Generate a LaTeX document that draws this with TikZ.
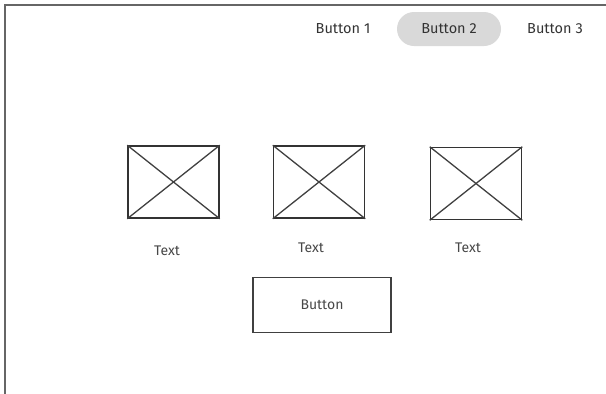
\documentclass[tikz,border=0pt]{standalone}
\usepackage{fontspec}
\setmainfont{Fira Sans}
\usepackage{xcolor}

\begin{document}
\begin{tikzpicture}[
    x=1pt, y=-1pt,
    frame/.style={
        draw=black!60,
        line width=1.4pt
    },
    navitem/.style={
        font=\fontsize{14.5}{16}\selectfont,
        text=black!80,
        inner sep=0pt
    },
    navactive/.style={
        navitem,
        fill=black!15,
        rounded corners=17pt,
        minimum width=104pt,
        minimum height=34pt
    },
    imgbox/.style={
        rectangle,
        draw=black!80,
        line width=1.5pt,
        minimum width=91pt,
        minimum height=72pt,
        inner sep=0pt
    },
    cross/.style={
        draw=black!75,
        line width=1.3pt
    },
    caption/.style={
        font=\fontsize{14}{16}\selectfont,
        text=black!72
    },
    btn/.style={
        rectangle,
        draw=black!75,
        line width=1.3pt,
        minimum width=138pt,
        minimum height=55pt,
        font=\fontsize{14}{16}\selectfont,
        text=black!72
    }
]
    \useasboundingbox (0,0) rectangle (606,394);

    % --- Page frame (cut off at right and bottom) ---
    \coordinate (topright) at (606,5);
    \coordinate (corner) at (5,5);
    \coordinate (botleft) at (5,394);
    \draw [frame] (topright) -- (corner) -- (botleft);

    % --- Navigation bar ---
    \node [navitem] (nav1) at (343,29) {Button 1};
    \node [navactive] (nav2) at (449,29) {Button 2};
    \node [navitem] (nav3) at (555,29) {Button 3};

    % --- Image placeholders ---
    \node [imgbox] (img1) at (173.5,182) {};
    \node [imgbox] (img2) at (319,182) {};
    \node [imgbox] (img3) at (476,183.5) {};
    \foreach \i in {1,2,3} {
        \path [cross] (img\i.north west) -- (img\i.south east);
        \path [cross] (img\i.south west) -- (img\i.north east);
    }

    % --- Captions ---
    \node [caption] (cap1) at (167,251) {Text};
    \node [caption] (cap2) at (311,248) {Text};
    \node [caption] (cap3) at (468,248) {Text};

    % --- Main button ---
    \node [btn] (mainbtn) at (322,305) {Button};

\end{tikzpicture}
\end{document}
